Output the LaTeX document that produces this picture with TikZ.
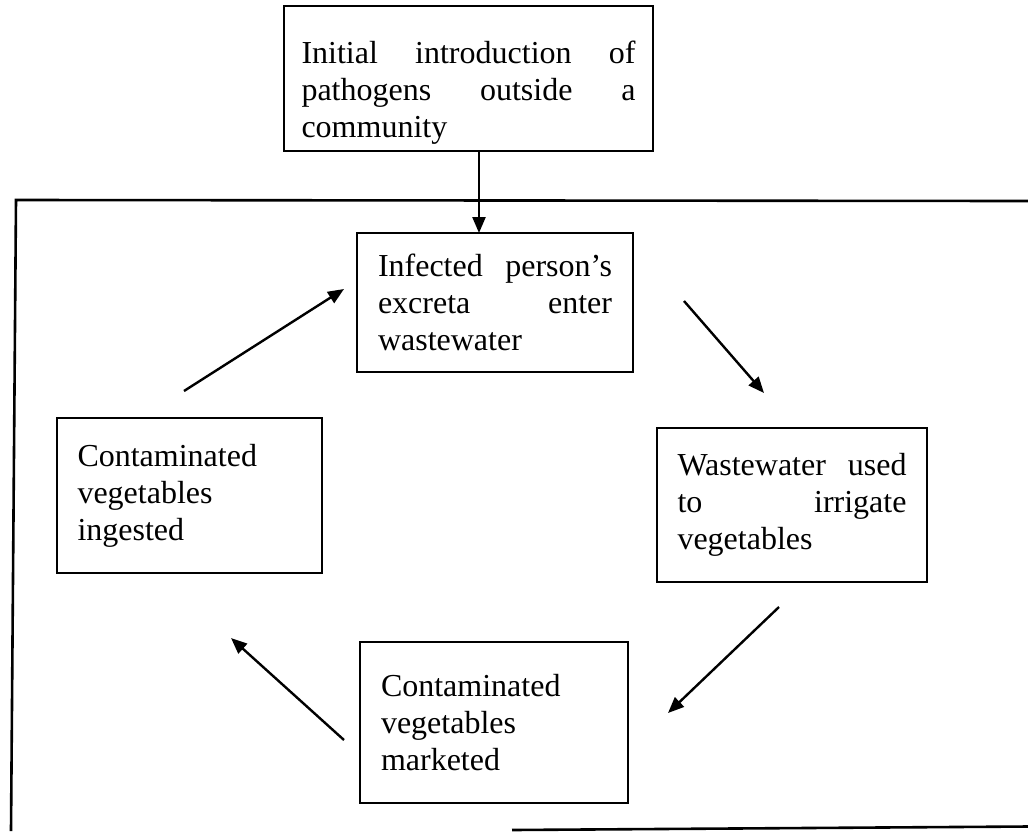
\documentclass[tikz,border=0pt]{standalone}
\usepackage{fontspec}
\setmainfont{Liberation Serif}
\usetikzlibrary{arrows.meta}
\hyphenpenalty=10000
\exhyphenpenalty=10000
\tolerance=10000

\begin{document}
\begin{tikzpicture}[x=1pt, y=-1pt,
	box/.style={draw, line width=2pt, align=justify, inner sep=0pt,
		font=\fontsize{32}{37}\selectfont},
	arr/.style={line width=2.4pt, -{Triangle[length=16pt,width=13pt]}},
	frame/.style={line width=2.6pt}]
	\useasboundingbox (0,0) rectangle (1028,831);

	% outer frame (community)
	\draw[frame] (1028,201) -- (16,200) -- (11,831);
	\draw[frame] (512,830) -- (1028,826.5);

	% boxes
	\node[box, text width=334pt, minimum width=369pt, minimum height=145pt] (intro) at (468.5,78.5)
		{\rule{0pt}{50pt}Initial introduction of pathogens outside a community};
	\node[box, text width=234pt, minimum width=276pt, minimum height=139pt] (inf) at (495,302.5)
		{Infected person's excreta enter wastewater};
	\node[box, text width=229pt, minimum width=270pt, minimum height=154pt] (ww) at (792,505)
		{Wastewater used\linebreak to irrigate\linebreak vegetables};
	\node[box, text width=226pt, minimum width=268pt, minimum height=161pt] (mkt) at (494,722.5)
		{Contaminated vegetables marketed};
	\node[box, text width=224pt, minimum width=265pt, minimum height=155pt] (ing) at (189.5,495.5)
		{Contaminated vegetables ingested};

	% arrow ends
	\coordinate (e0a) at (479,151);  \coordinate (e0b) at (479,233);
	\coordinate (e1a) at (684,301);  \coordinate (e1b) at (764,393);
	\coordinate (e2a) at (779,607);  \coordinate (e2b) at (668,713);
	\coordinate (e3a) at (344,740);  \coordinate (e3b) at (231,638);
	\coordinate (e4a) at (184,391);  \coordinate (e4b) at (344,289);

	\draw[arr] (e0a) -- (e0b);
	\draw[arr] (e1a) -- (e1b);
	\draw[arr] (e2a) -- (e2b);
	\draw[arr] (e3a) -- (e3b);
	\draw[arr] (e4a) -- (e4b);
\end{tikzpicture}
\end{document}
